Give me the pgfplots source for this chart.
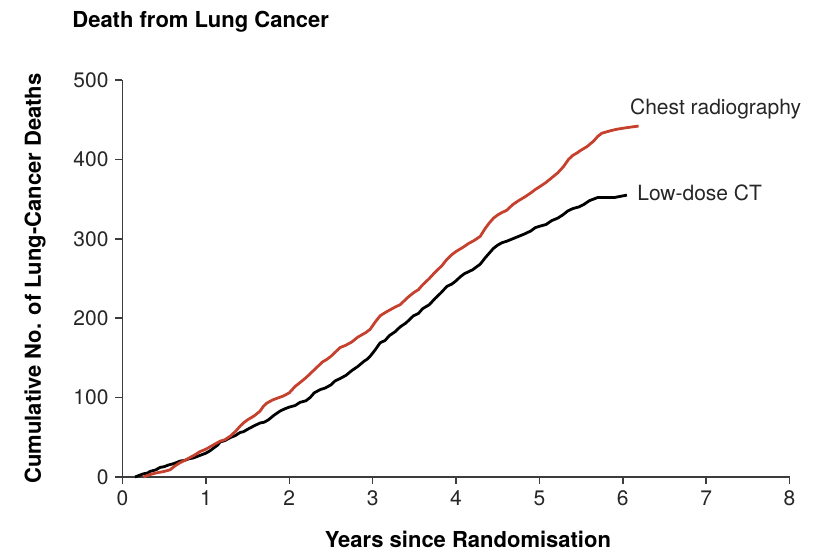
\documentclass[border=0pt]{standalone}
\usepackage{fontspec}
\setmainfont{TeX Gyre Heros}
\usepackage{pgfplots}
\pgfplotsset{compat=1.18}
\definecolor{redline}{RGB}{198,64,46}
\definecolor{axgray}{RGB}{60,60,60}
\begin{document}
\begin{tikzpicture}
\begin{axis}[name=ax, scale only axis, width=333.5pt, height=198.5pt,
 xmin=0,xmax=8,ymin=0,ymax=500,
 axis x line=bottom, axis y line=left,
 axis line style={axgray, line width=0.75pt, -},
 tick style={axgray, line width=0.75pt},
 tick align=outside, major tick length=3.5pt,
 xtick={0,...,8}, ytick={0,100,...,500},
 /pgf/number format/assume math mode=true,
 tick label style={font=\fontsize{10.5}{12}\selectfont, text=black!85},
 label style={font=\fontsize{11}{13}\selectfont\bfseries},
 xlabel={Years since Randomisation},
 ylabel={Cumulative No. of Lung-Cancer Deaths},
 xlabel style={at={([xshift=6pt,yshift=-31.4pt]axis description cs:0.5,0)}, anchor=center},
 ylabel style={at={([xshift=-43.75pt]axis description cs:0,0.5)}, anchor=center},
 clip=false,
]
\addplot[black, line width=1.4pt, line join=round] coordinates {
(0.15,0) (0.2,2) (0.25,4) (0.3,5) (0.33,7) (0.4,9) (0.45,12) (0.5,13) (0.55,15) (0.62,17)
(0.69,20) (0.75,21) (0.8,23) (0.85,24) (0.9,26) (0.95,28) (1.0,30) (1.05,33) (1.1,37)
(1.14,40) (1.17,44) (1.23,46) (1.3,50) (1.35,52) (1.41,56) (1.45,57) (1.5,60) (1.57,64)
(1.65,68) (1.7,69) (1.75,72) (1.82,78) (1.89,83) (1.95,86) (2.0,88) (2.07,90) (2.13,94)
(2.2,96) (2.25,100) (2.3,106) (2.37,110) (2.43,112) (2.5,116) (2.55,121) (2.61,124)
(2.68,128) (2.75,134) (2.82,139) (2.9,146) (2.93,148) (2.97,152) (3.03,160) (3.09,169)
(3.15,172) (3.2,178) (3.27,183) (3.33,189) (3.4,194) (3.49,203) (3.55,206) (3.6,212)
(3.68,217) (3.75,225) (3.82,232) (3.89,240) (3.95,243) (4.0,247) (4.05,252) (4.1,256)
(4.2,261) (4.29,268) (4.35,276) (4.4,282) (4.45,288) (4.5,292) (4.55,295) (4.61,297)
(4.68,300) (4.75,303) (4.82,306) (4.9,310) (4.95,314) (5.01,316) (5.08,318) (5.15,323)
(5.22,326) (5.28,330) (5.34,335) (5.4,338) (5.47,340) (5.53,343) (5.6,348) (5.65,350)
(5.7,352) (5.75,352) (5.9,352) (6.05,355)
};
\addplot[redline, line width=1.4pt, line join=round] coordinates {
(0.25,0) (0.3,2) (0.33,3) (0.4,5) (0.45,6) (0.5,7) (0.57,9) (0.63,14) (0.69,18) (0.75,21)
(0.8,24) (0.87,28) (0.93,32) (1.0,35) (1.05,38) (1.1,41) (1.17,45) (1.23,47) (1.3,52)
(1.36,58) (1.41,64) (1.45,68) (1.5,72) (1.58,77) (1.65,83) (1.69,89) (1.73,93) (1.8,97)
(1.85,99) (1.93,102) (2.0,106) (2.07,114) (2.13,119) (2.2,125) (2.25,130) (2.33,138)
(2.4,145) (2.45,148) (2.5,152) (2.56,158) (2.61,163) (2.68,166) (2.75,170) (2.82,176)
(2.87,179) (2.92,182) (2.97,186) (3.03,195) (3.09,203) (3.15,207) (3.2,210) (3.27,214)
(3.33,217) (3.42,226) (3.49,232) (3.55,236) (3.6,242) (3.68,250) (3.75,258) (3.83,266)
(3.89,274) (3.95,280) (4.0,284) (4.08,289) (4.15,294) (4.22,298) (4.29,303) (4.35,313)
(4.4,320) (4.45,326) (4.5,330) (4.55,333) (4.61,336) (4.68,343) (4.75,348) (4.83,353)
(4.9,358) (4.95,362) (5.01,366) (5.08,371) (5.15,377) (5.22,383) (5.29,391) (5.35,400)
(5.4,405) (5.45,408) (5.49,411) (5.57,416) (5.65,423) (5.7,429) (5.75,433) (5.85,436)
(5.93,438) (6.05,440) (6.19,442)
};
\node[anchor=west, inner sep=0pt, font=\fontsize{10.5}{12}\selectfont, text=black!85] at (axis cs:6.084,463) {Chest radiography};
\node[anchor=west, inner sep=0pt, font=\fontsize{10.5}{12}\selectfont, text=black!85] at (axis cs:6.17,358) {Low-dose CT};
\end{axis}
\node[anchor=west, inner sep=0pt, font=\fontsize{11}{13}\selectfont\bfseries] at ([xshift=-25.25pt,yshift=29pt]ax.north west) {Death from Lung Cancer};
\pgfresetboundingbox
\path[use as bounding box] ([xshift=-61.25pt,yshift=-37.35pt]ax.south west) rectangle ([xshift=17.25pt,yshift=40pt]ax.north east);
\end{tikzpicture}
\end{document}
